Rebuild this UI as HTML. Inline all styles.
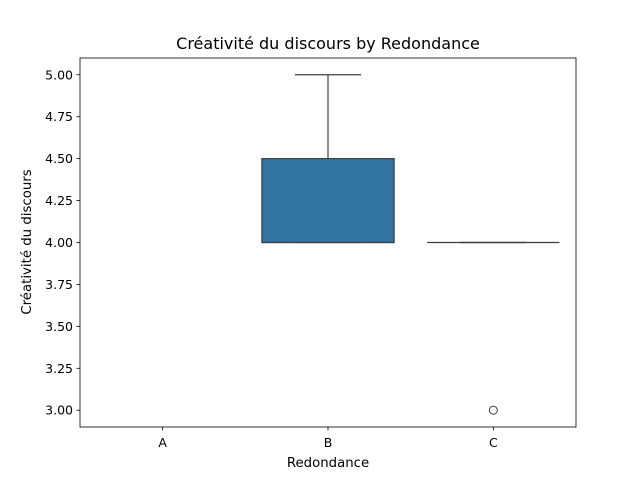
<!DOCTYPE html>
<html><head><meta charset="utf-8"><style>
body{margin:0;background:#fff;}
svg{display:block;font-family:"DejaVu Sans","Liberation Sans",sans-serif;}
</style></head><body>
<svg id="chart" width="640" height="480">
<text x="328" y="49" text-anchor="middle" font-size="16">Créativité du discours by Redondance</text>
<g id="plot"></g>
<rect x="80" y="58" width="496" height="369" fill="none" stroke="#000" stroke-width="0.8"/>
<text x="328" y="467" text-anchor="middle" font-size="13.3">Redondance</text>
<text transform="translate(31,242) rotate(-90)" text-anchor="middle" font-size="13.3">Créativité du discours</text>
</svg>
<script>
const categories = ["A","B","C"];
const q1 = [null, 4.0, 4.0];
const medians = [null, 4.0, 4.0];
const q3 = [null, 4.5, 4.0];
const whiskerLow = [null, 4.0, 4.0];
const whiskerHigh = [null, 5.0, 4.0];
const outliers = [[], [], [3.0]];
const yTicks = [3.0,3.25,3.5,3.75,4.0,4.25,4.5,4.75,5.0];

const NS="http://www.w3.org/2000/svg";
const X0=80,X1=576,Y0=427,Y1=58,ymin=2.9,ymax=5.1;
const xs=i=>X0+(i+0.5)*(X1-X0)/categories.length;
const ys=v=>Y0-(v-ymin)/(ymax-ymin)*(Y0-Y1);
const bw=(X1-X0)/categories.length;
const g=document.getElementById('plot');
function mk(t,a){const e=document.createElementNS(NS,t);for(const k in a)e.setAttribute(k,a[k]);g.appendChild(e);return e;}
const lc="#3f3f3f";
yTicks.forEach(v=>{
  const y=ys(v);
  const l=mk('line',{x1:X0-3.5,x2:X0,y1:y,y2:y,stroke:'#000','stroke-width':0.8});
  
  
  const t=mk('text',{x:X0-7,y:y+4.5,'text-anchor':'end','font-size':12.5});
  t.textContent=v.toFixed(2);
  
  
});
categories.forEach((c,i)=>{
  const x=xs(i);
  const l=mk('line',{x1:x,x2:x,y1:Y0,y2:Y0+3.5,stroke:'#000','stroke-width':0.8});
  
  
  const t=mk('text',{x:x,y:Y0+20,'text-anchor':'middle','font-size':12.5});
  t.textContent=c;
  
  
  if(q1[i]===null)return;
  const w=bw*0.8, cw=w/2;
  const wl=mk('line',{x1:x,x2:x,y1:ys(q3[i]),y2:ys(whiskerHigh[i]),stroke:lc,'stroke-width':1.2});
  
  
  const wl2=mk('line',{x1:x,x2:x,y1:ys(q1[i]),y2:ys(whiskerLow[i]),stroke:lc,'stroke-width':1.2});
  
  
  [whiskerHigh[i],whiskerLow[i]].forEach(v=>{
    const cp=mk('line',{x1:x-cw/2,x2:x+cw/2,y1:ys(v),y2:ys(v),stroke:lc,'stroke-width':1.2});
    
    
  });
  const b=mk('rect',{x:x-w/2,y:ys(q3[i]),width:w,height:Math.max(0,ys(q1[i])-ys(q3[i])),fill:'#3274a1',stroke:lc,'stroke-width':1.2});
  
  
  const m=mk('line',{x1:x-w/2,x2:x+w/2,y1:ys(medians[i]),y2:ys(medians[i]),stroke:lc,'stroke-width':1.2});
  
  
  outliers[i].forEach(v=>{
    const o=mk('circle',{cx:x,cy:ys(v),r:4,fill:'none',stroke:lc,'stroke-width':1});
    
    
  });
});
</script>
</body></html>
